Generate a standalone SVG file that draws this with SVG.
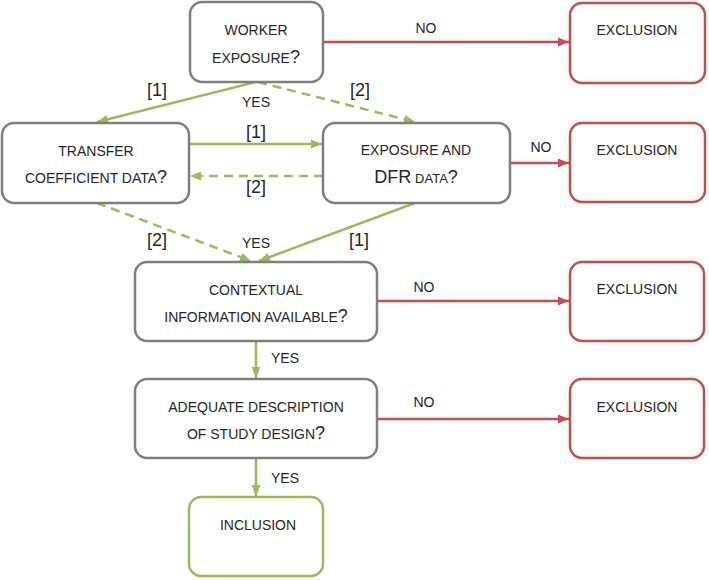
<svg xmlns="http://www.w3.org/2000/svg" width="709" height="580" viewBox="0 0 709 580">
<style>
.box{fill:#fff;stroke:#7f7f7f;stroke-width:2.5}
.red{fill:#fff;stroke:#c0504d;stroke-width:2.5}
.grn{fill:#fff;stroke:#9bbb59;stroke-width:2.5}
text{font-family:"Liberation Sans",Arial,sans-serif;font-size:14px;fill:#262626;text-anchor:middle}
.q{font-size:18px}
.sm{font-size:13px}
.b{font-size:18px}
.lr{stroke:#c0504d;stroke-width:2.5;fill:none}
.lg{stroke:#9bbb59;stroke-width:2.5;fill:none}
.d{stroke-dasharray:9 6}
</style>
<defs>
<marker id="ar" markerUnits="userSpaceOnUse" markerWidth="12" markerHeight="10" refX="11" refY="5" orient="auto"><path d="M0,0.5 L11,5 L0,9.5 z" fill="#c0504d"/></marker>
<marker id="ag" markerUnits="userSpaceOnUse" markerWidth="12" markerHeight="10" refX="11" refY="5" orient="auto"><path d="M0,0.5 L11,5 L0,9.5 z" fill="#9bbb59"/></marker>
</defs>
<g id="connectors">
<line class="lr" x1="323" y1="42" x2="569" y2="42" marker-end="url(#ar)"/>
<line class="lr" x1="510" y1="163" x2="569" y2="163" marker-end="url(#ar)"/>
<line class="lr" x1="377" y1="301" x2="569" y2="301" marker-end="url(#ar)"/>
<line class="lr" x1="377" y1="419" x2="569" y2="419" marker-end="url(#ar)"/>
<line class="lg" x1="256" y1="82" x2="97" y2="122" marker-end="url(#ag)"/>
<line class="lg d" x1="258" y1="82" x2="415" y2="122" marker-end="url(#ag)"/>
<line class="lg" x1="189" y1="144" x2="322" y2="144" marker-end="url(#ag)"/>
<line class="lg d" x1="323" y1="176" x2="190" y2="176" marker-end="url(#ag)"/>
<line class="lg d" x1="97" y1="203" x2="251" y2="261" marker-end="url(#ag)"/>
<line class="lg" x1="415" y1="203" x2="259" y2="261" marker-end="url(#ag)"/>
<line class="lg" x1="256" y1="341" x2="256" y2="378" marker-end="url(#ag)"/>
<line class="lg" x1="256" y1="458" x2="256" y2="496" marker-end="url(#ag)"/>
<text x="426" y="33">NO</text>
<text x="541" y="152">NO</text>
<text x="424" y="292">NO</text>
<text x="424" y="407">NO</text>
<text class="b" x="157" y="96">[1]</text>
<text x="256" y="107">YES</text>
<text class="b" x="360" y="96">[2]</text>
<text class="b" x="256" y="138">[1]</text>
<text class="b" x="256" y="193">[2]</text>
<text class="b" x="157" y="246">[2]</text>
<text x="256" y="248">YES</text>
<text class="b" x="359" y="246">[1]</text>
<text x="285" y="363">YES</text>
<text x="285" y="483">YES</text>
</g>
<g id="worker">
<rect class="box" x="190" y="2" width="133" height="80" rx="12"/>
<text x="256" y="35">WORKER</text>
<text x="256" y="63">EXPOSURE<tspan class="q">?</tspan></text>
</g>
<g id="excl1">
<rect class="red" x="570" y="3" width="135" height="80" rx="12"/>
<text x="637" y="35">EXCLUSION</text>
</g>
<g id="transfer">
<rect class="box" x="2" y="123" width="187" height="80" rx="12"/>
<text x="96" y="156">TRANSFER</text>
<text x="96" y="183">COEFFICIENT DATA<tspan class="q">?</tspan></text>
</g>
<g id="exposure">
<rect class="box" x="323" y="123" width="187" height="80" rx="12"/>
<text x="416" y="155">EXPOSURE AND</text>
<text x="416" y="183"><tspan class="q">DFR</tspan> <tspan class="sm">DATA</tspan><tspan class="q">?</tspan></text>
</g>
<g id="excl2">
<rect class="red" x="570" y="123" width="135" height="79" rx="12"/>
<text x="637" y="155">EXCLUSION</text>
</g>
<g id="contextual">
<rect class="box" x="135" y="262" width="242" height="79" rx="12"/>
<text x="256" y="295">CONTEXTUAL</text>
<text x="256" y="322">INFORMATION AVAILABLE<tspan class="q">?</tspan></text>
</g>
<g id="excl3">
<rect class="red" x="570" y="262" width="134" height="79" rx="12"/>
<text x="637" y="294">EXCLUSION</text>
</g>
<g id="adequate">
<rect class="box" x="135" y="379" width="242" height="79" rx="12"/>
<text x="256" y="412">ADEQUATE DESCRIPTION</text>
<text x="256" y="439">OF STUDY DESIGN<tspan class="q">?</tspan></text>
</g>
<g id="excl4">
<rect class="red" x="570" y="379" width="134" height="79" rx="12"/>
<text x="637" y="412">EXCLUSION</text>
</g>
<g id="inclusion">
<rect class="grn" x="189" y="497" width="134" height="79" rx="12"/>
<text x="258" y="530">INCLUSION</text>
</g>
</svg>
